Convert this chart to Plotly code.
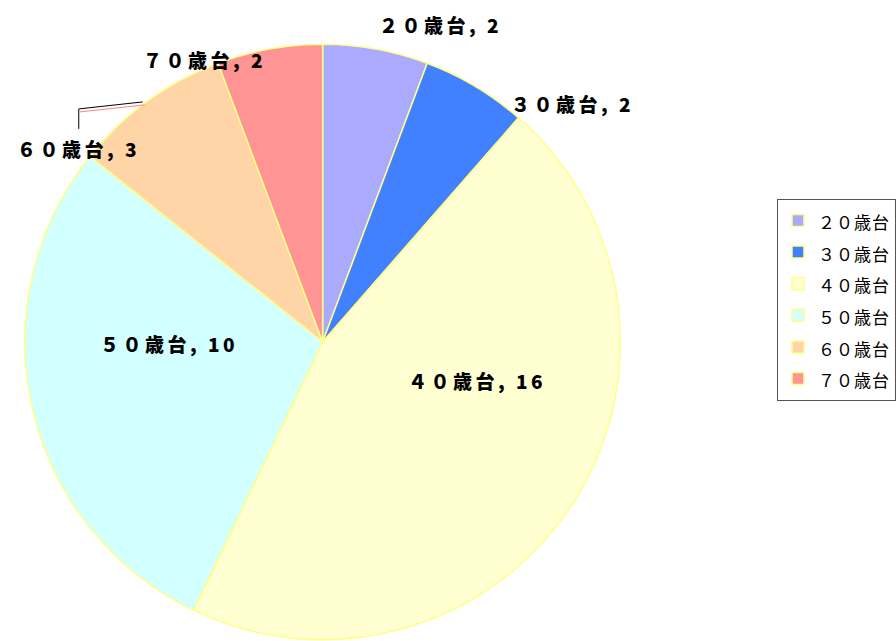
import math
import plotly.graph_objects as go

categories = ["２０歳台", "３０歳台", "４０歳台", "５０歳台", "６０歳台", "７０歳台"]
values = [2, 2, 16, 10, 3, 2]
colors = ["#AAAAFF", "#4180FF", "#FFFFD2", "#D2FFFF", "#FFD4A6", "#FF9494"]

# label placement style: radius factor along mid-angle, then pixel shift
label_radius = [1.0, 1.0, 0.5, 0.5, 1.0, 1.0]
label_shift = [(65, 24), (97, -17), (30, 44), (-9, 32), (-69, -48), (-65, -11)]

W, H = 896, 641
cx, cy, r = 323, 342, 298

fig = go.Figure(go.Pie(
    labels=categories,
    values=values,
    sort=False,
    direction="clockwise",
    rotation=0,
    marker=dict(colors=colors, line=dict(color="#FFFF88", width=1.5)),
    textinfo="none",
    hoverinfo="label+value+percent",
    domain=dict(x=[(cx - r) / W, (cx + r) / W], y=[(H - cy - r) / H, (H - cy + r) / H]),
))

total = sum(values)
cum = 0
annotations = []
shapes = []
for i, (cat, v) in enumerate(zip(categories, values)):
    theta = 2 * math.pi * (cum + v / 2) / total
    cum += v
    f = label_radius[i]
    px = cx + f * r * math.sin(theta)
    py = cy - f * r * math.cos(theta)
    dx, dy = label_shift[i]
    annotations.append(dict(
        x=px / W, y=1 - py / H, xref="paper", yref="paper",
        text=f'<span style="letter-spacing:3.5px">{cat}, {v}</span>',
        showarrow=False, xanchor="center", yanchor="middle",
        xshift=dx, yshift=dy,
        font=dict(family="Noto Sans CJK JP", size=19, color="#000000", weight=900),
    ))
    if cat == "６０歳台":
        # elbow leader line from slice edge to the label
        ex, ey = px - 5, py + 1
        mx, my = px + dx, py + 8
        lx, ly = px + dx, py - dy - 20
        shapes.append(dict(
            type="path", xref="paper", yref="paper",
            path=f"M{ex / W},{1 - ey / H} L{mx / W},{1 - my / H} L{lx / W},{1 - ly / H}",
            line=dict(color="#000000", width=1),
        ))
        shapes.append(dict(
            type="line", xref="paper", yref="paper",
            x0=(ex + 2) / W, y0=1 - (ey + 3) / H, x1=(mx + 1) / W, y1=1 - (my + 3) / H,
            line=dict(color="#FF8080", width=1),
        ))

legend_labels = [f'<span style="font-size:17px;letter-spacing:1px">{c}</span>' for c in categories]
fig.data[0].labels = legend_labels
fig.data[0].hovertemplate = "%{label}: %{value}<extra></extra>"

fig.update_layout(
    width=W, height=H,
    margin=dict(l=0, r=0, t=0, b=0),
    paper_bgcolor="white",
    plot_bgcolor="white",
    showlegend=True,
    annotations=annotations,
    shapes=shapes,
    legend=dict(
        x=0.868, y=0.69, xanchor="left", yanchor="top",
        bordercolor="#555555", borderwidth=1,
        font=dict(family="Noto Sans CJK JP", size=22, color="#000000"),
        itemwidth=30,
    ),
)

fig.write_html(
    "out.html",
    config={"displayModeBar": False},
    post_script="document.body.style.margin='0';document.body.style.overflow='hidden';",
)
